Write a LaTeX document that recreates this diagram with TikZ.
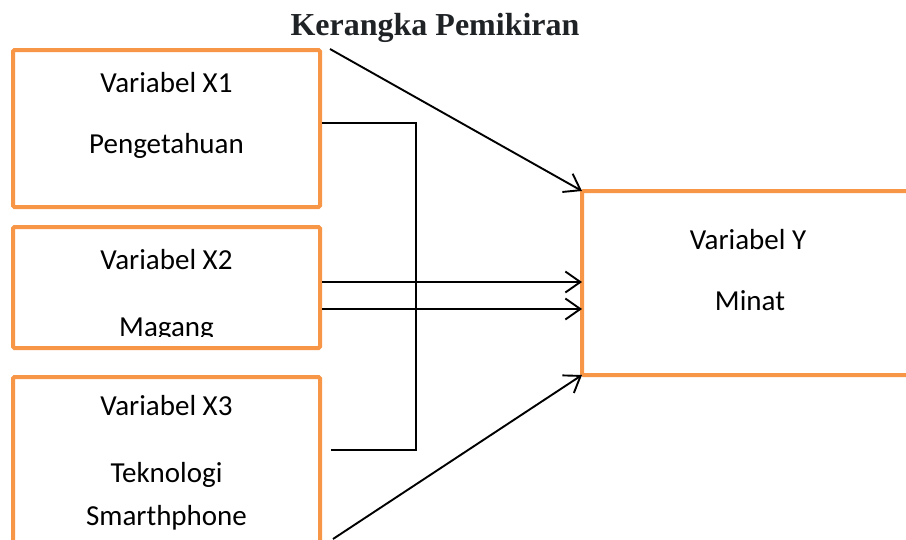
\documentclass[tikz,border=0pt]{standalone}
\usepackage{fontspec}
\setmainfont{Carlito}
\newfontfamily\titlefont{Liberation Serif}
\usetikzlibrary{arrows.meta}
\definecolor{boxorange}{HTML}{F79646}
\definecolor{titlegray}{HTML}{202326}
\begin{document}
\begin{tikzpicture}[x=1pt,y=-1pt,
  varbox/.style={draw=boxorange,line width=4pt,rectangle,rounded corners=1.5pt,inner sep=0pt,outer sep=0pt,anchor=north west},
  lbl/.style={anchor=base,inner sep=0pt,font=\fontsize{29}{34}\selectfont},
  arr/.style={line width=1.9pt,-{Straight Barb[length=15pt,width=21pt]}},
  thin/.style={line width=1.4pt}]
\useasboundingbox (0,0) rectangle (906,539);
\clip (0,0) rectangle (906,539);
% title
\node[anchor=base,inner sep=0pt,text=titlegray,font=\titlefont\bfseries\fontsize{32}{38}\selectfont] (title) at (435,35) {Kerangka Pemikiran};
% boxes
\node[varbox,minimum width=307pt,minimum height=157pt] (x1) at (13,50) {};
\node[varbox,minimum width=307pt,minimum height=121pt] (x2) at (13,227) {};
\node[varbox,minimum width=307pt,minimum height=200pt] (x3) at (13,377) {};
\node[varbox,minimum width=340pt,minimum height=184pt] (y) at (582,191) {};
% labels
\node[lbl] (x1a) at (166.5,92) {Variabel X1};
\node[lbl] (x1b) at (166.5,153) {Pengetahuan};
\node[lbl] (x2a) at (166.5,269) {Variabel X2};
\begin{scope}
\clip (13,300) rectangle (320,336);
\node[lbl] (x2b) at (166.5,336) {Magang};
\end{scope}
\node[lbl] (x3a) at (166.5,415) {Variabel X3};
\node[lbl] (x3b) at (166.5,482) {Teknologi};
\node[lbl] (x3c) at (166.5,525) {Smarthphone};
\node[lbl] (ya) at (748,249) {Variabel Y};
\node[lbl] (yb) at (750,310) {Minat};
% connector points
\coordinate (s1) at (330,49);
\coordinate (s3) at (333,539);
\coordinate (b1) at (322,123);
\coordinate (b2) at (416,123);
\coordinate (b3) at (416,450);
\coordinate (b4) at (331,450);
\coordinate (a1) at (322,282);
\coordinate (a2) at (322,309);
% connectors
\draw[arr] (s1) -- (y.north west);
\draw[thin] (b1) -- (b2) -- (b3) -- (b4);
\draw[arr] (a1) -- (a1 -| y.west);
\draw[arr] (a2) -- (a2 -| y.west);
\draw[arr] (s3) -- (y.south west);
\end{tikzpicture}
\end{document}
